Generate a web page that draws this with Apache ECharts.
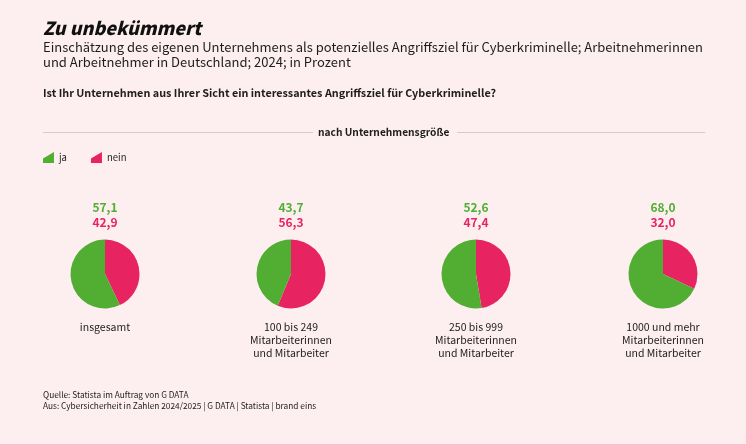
<!DOCTYPE html>
<html>
<head>
<meta charset="utf-8">
<style>
  html, body { margin: 0; padding: 0; background: #fdeff0; }
  #chart { width: 746px; height: 444px; }
</style>
<script src="https://cdn.jsdelivr.net/npm/echarts@6/dist/echarts.min.js"></script>
</head>
<body>
<div id="chart"></div>
<script>
var categories = ['insgesamt', '100 bis 249\nMitarbeiterinnen\nund Mitarbeiter', '250 bis 999\nMitarbeiterinnen\nund Mitarbeiter', '1000 und mehr\nMitarbeiterinnen\nund Mitarbeiter'];
var jaValues = [57.1, 43.7, 52.6, 68.0];
var neinValues = [42.9, 56.3, 47.4, 32.0];

var centerX = [105, 291, 476, 663];
var green = '#52ae32';
var red = '#e72362';
var ink = '#1d1d1b';
var font = '"Noto Sans CJK SC", "Noto Sans", sans-serif';
var legendIcon = 'path://M0 12 L0 7 L12 0 L12 12 Z';

function fmt(v) {
  return v.toFixed(1).replace('.', ',');
}

// Kopfzeilen
var titles = [
  { left: 43, top: 19, padding: 0, text: 'Zu unbekümmert', textStyle: { fontFamily: font, fontSize: 18, fontWeight: 900, fontStyle: 'italic', color: '#111' } },
  { left: 43, top: 39, padding: 0, text: 'Einschätzung des eigenen Unternehmens als potenzielles Angriffsziel für Cyberkriminelle; Arbeitnehmerinnen\nund Arbeitnehmer in Deutschland; 2024; in Prozent', textStyle: { fontFamily: font, fontSize: 13, fontWeight: 'normal', color: ink, lineHeight: 15.5 } },
  { left: 43, top: 88, padding: 0, text: 'Ist Ihr Unternehmen aus Ihrer Sicht ein interessantes Angriffsziel für Cyberkriminelle?', textStyle: { fontFamily: font, fontSize: 10.8, fontWeight: 'bold', color: ink } },
  { left: 318, top: 127, padding: 0, text: 'nach Unternehmensgröße', textStyle: { fontFamily: font, fontSize: 10.2, fontWeight: 'bold', color: ink } },
  { left: 43, top: 389, padding: 0, text: 'Quelle: Statista im Auftrag von G DATA\nAus: Cybersicherheit in Zahlen 2024/2025 | G DATA | Statista | brand eins', textStyle: { fontFamily: font, fontSize: 8.3, fontWeight: 'normal', color: ink, lineHeight: 11 } }
];

var series = [];
categories.forEach(function(cat, i) {
  // Werte über dem Kreis
  titles.push({
    left: centerX[i], top: 200, padding: 0, textAlign: 'center',
    text: '{g|' + fmt(jaValues[i]) + '}\n{r|' + fmt(neinValues[i]) + '}',
    textStyle: { rich: {
      g: { fontFamily: font, fontSize: 12, fontWeight: 'bold', color: green, lineHeight: 15 },
      r: { fontFamily: font, fontSize: 12, fontWeight: 'bold', color: red, lineHeight: 15 }
    } }
  });
  // Beschriftung unter dem Kreis
  titles.push({
    left: centerX[i], top: 321, padding: 0, textAlign: 'center', text: cat,
    textStyle: { fontFamily: font, fontSize: 10.5, fontWeight: 'normal', color: ink, lineHeight: 13 }
  });
  series.push({
    type: 'pie',
    center: [centerX[i], 274],
    radius: [0, 34.5],
    startAngle: 90,
    clockwise: true,
    silent: true,
    animation: false,
    label: { show: false },
    labelLine: { show: false },
    itemStyle: { borderWidth: 0 },
    data: [
      { name: 'nein', value: neinValues[i], itemStyle: { color: red } },
      { name: 'ja', value: jaValues[i], itemStyle: { color: green } }
    ]
  });
});

var chart = echarts.init(document.getElementById('chart'), null, { renderer: 'canvas' });
chart.setOption({
  backgroundColor: '#fdeff0',
  animation: false,
  title: titles,
  legend: {
    left: 43, top: 152, padding: 0,
    itemWidth: 11, itemHeight: 12, itemGap: 24,
    icon: legendIcon,
    data: ['ja', 'nein'],
    selectedMode: false,
    textStyle: { fontFamily: font, fontSize: 9.5, color: ink }
  },
  graphic: [
    { type: 'line', shape: { x1: 43, y1: 132.5, x2: 313, y2: 132.5 }, style: { stroke: '#d9c8cc', lineWidth: 1 } },
    { type: 'line', shape: { x1: 457, y1: 132.5, x2: 705, y2: 132.5 }, style: { stroke: '#d9c8cc', lineWidth: 1 } }
  ],
  series: series
});
</script>
</body>
</html>
